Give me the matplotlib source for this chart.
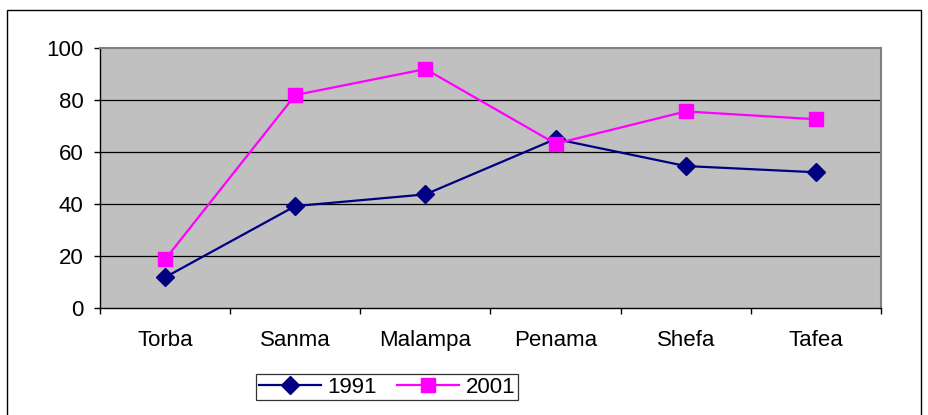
import matplotlib
matplotlib.use("Agg")
import matplotlib.pyplot as plt
from matplotlib.patches import Rectangle
import numpy as np

categories = ["Torba", "Sanma", "Malampa", "Penama", "Shefa", "Tafea"]
v1991 = [11.8, 39.2, 43.7, 65.0, 54.6, 52.2]
v2001 = [18.7, 81.9, 91.9, 63.2, 75.6, 72.6]
yticks = [0, 20, 40, 60, 80, 100]

plt.rcParams['font.family'] = ['Liberation Sans', 'DejaVu Sans']

W, H = 929, 415
fig = plt.figure(figsize=(W / 100, H / 100), dpi=100)
fig.patch.set_facecolor("white")

# outer chart border
fig.add_artist(Rectangle((7 / W, -0.05), (921 - 7) / W, 1 - 10 / H + 0.05,
                         transform=fig.transFigure, fill=False,
                         edgecolor="black", linewidth=1.0))

left, right, top, bottom = 100, 881, 48, 308
ax = fig.add_axes([left / W, 1 - bottom / H, (right - left) / W, (bottom - top) / H])
ax.set_facecolor("#C0C0C0")

x = np.arange(len(categories))
ax.set_xlim(-0.5, len(categories) - 0.5)
ax.set_ylim(0, 100)

for y in yticks[1:-1]:
    ax.axhline(y, color="black", linewidth=0.9, zorder=1)

ax.plot(x, v1991, color="#000080", linewidth=1.6, marker="D", markersize=9.5,
        markerfacecolor="#000080", markeredgecolor="#000080", label="1991", zorder=3)
ax.plot(x, v2001, color="#FF00FF", linewidth=1.6, marker="s", markersize=10.5,
        markerfacecolor="#FF00FF", markeredgecolor="#FF00FF", label="2001", zorder=4)

fs = 16
ax.set_yticks(yticks)
ax.set_yticklabels([str(t) for t in yticks], fontsize=fs)
ax.set_xticks(x)
ax.set_xticklabels(categories, fontsize=fs)
ax.set_xticks(np.arange(-0.5, len(categories), 1.0), minor=True)
ax.tick_params(axis="x", which="major", length=0, pad=16)
ax.tick_params(axis="x", which="minor", length=4, width=1, direction="out", color="black")
ax.tick_params(axis="y", length=4, width=1, direction="out", pad=8)

for s in ["left", "bottom"]:
    ax.spines[s].set_color("black")
    ax.spines[s].set_linewidth(1.0)
for s in ["top", "right"]:
    ax.spines[s].set_color("#808080")
    ax.spines[s].set_linewidth(1.5)

leg = fig.legend(loc="center", bbox_to_anchor=(387 / W, 1 - 387 / H), ncol=2,
                 fontsize=fs, frameon=True, fancybox=False, edgecolor="black",
                 borderpad=0.1, handlelength=2.8, columnspacing=0.9, handletextpad=0.3,
                 borderaxespad=0)
leg.get_frame().set_linewidth(0.9)

fig.savefig("out.png", dpi=100)
